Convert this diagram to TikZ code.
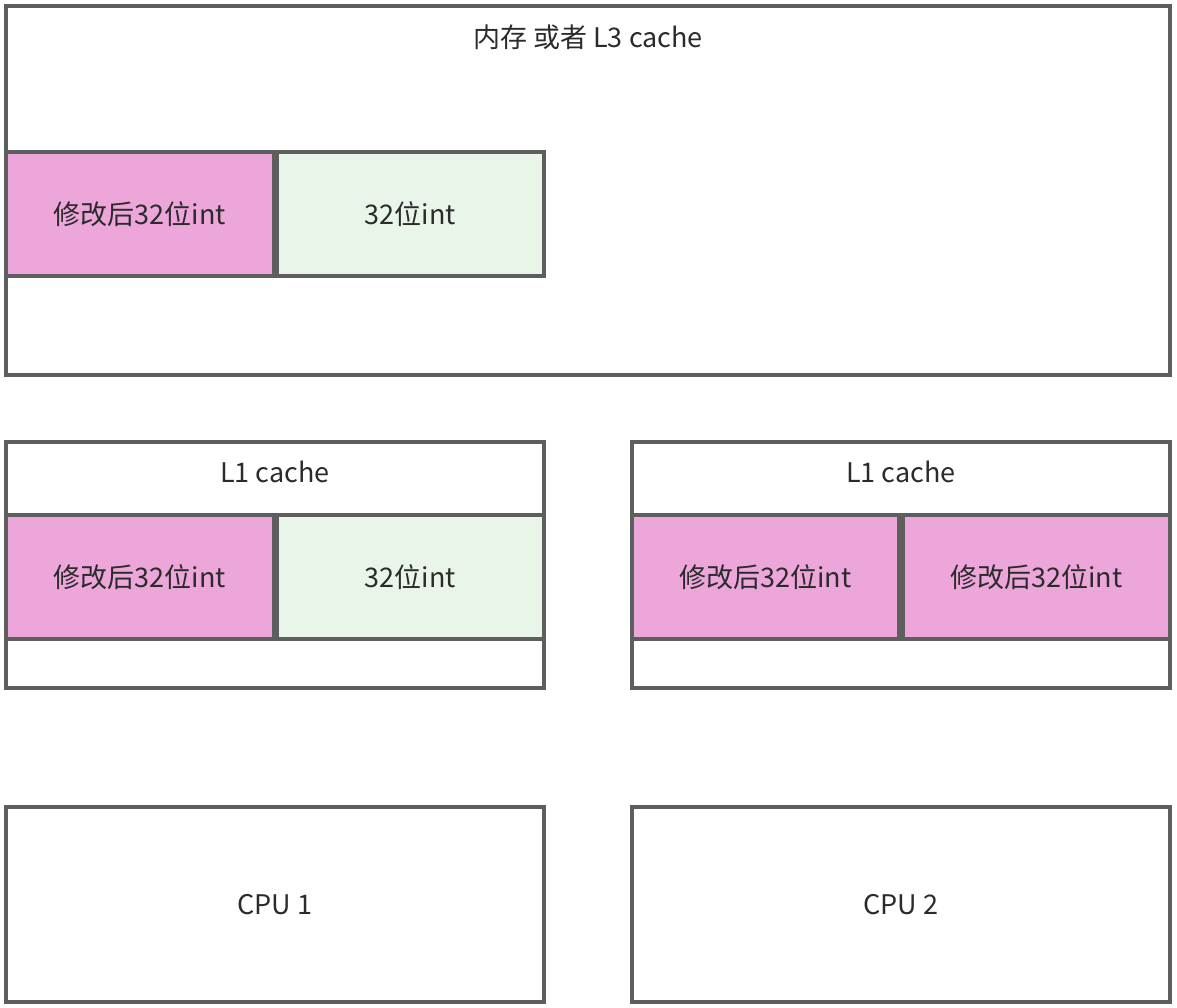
\documentclass[tikz,border=0pt]{standalone}
\usepackage{fontspec}
\setmainfont{Noto Sans CJK SC}
\begin{document}
\begin{tikzpicture}[x=1pt,y=-1pt,
  box/.style={draw=boxline,line width=3.4pt,inner sep=0pt,outer sep=0pt,anchor=north west,font=\fontsize{27}{32}\selectfont,text=txt},
  pinkcell/.style={box,fill=pinkc},
  greencell/.style={box,fill=greenc},
  lbl/.style={inner sep=0pt,font=\fontsize{27}{32}\selectfont,text=txt}]
\definecolor{boxline}{HTML}{5E5E5E}
\definecolor{pinkc}{HTML}{ECA6D9}
\definecolor{greenc}{HTML}{E8F5E8}
\definecolor{txt}{HTML}{2B2B2B}
\useasboundingbox[fill=white] (0,0) rectangle (1177,1008);
% memory / L3
\node[box,minimum width=1164pt,minimum height=369pt] (mem) at (6,6) {};
\node[lbl] (memt) at (588,37) {内存 或者 L3 cache};
\node[pinkcell,minimum width=268pt,minimum height=124pt] (mp) at (6,152) {修改后32位int};
\node[greencell,minimum width=267pt,minimum height=124pt] (mg) at (277,152) {32位int};
% L1 left
\node[box,minimum width=538pt,minimum height=246pt] (l1a) at (6,442) {};
\node[lbl] (l1at) at (275,472) {L1 cache};
\node[pinkcell,minimum width=268pt,minimum height=124pt] (ap) at (6,515) {修改后32位int};
\node[greencell,minimum width=267pt,minimum height=124pt] (ag) at (277,515) {32位int};
% L1 right
\node[box,minimum width=538pt,minimum height=246pt] (l1b) at (632,442) {};
\node[lbl] (l1bt) at (901,472) {L1 cache};
\node[pinkcell,minimum width=267pt,minimum height=124pt] (bp1) at (632,515) {修改后32位int};
\node[pinkcell,minimum width=267pt,minimum height=124pt] (bp2) at (903,515) {修改后32位int};
% CPUs
\node[box,minimum width=538pt,minimum height=195pt] (cpu1) at (6,807) {CPU 1};
\node[box,minimum width=538pt,minimum height=195pt] (cpu2) at (632,807) {CPU 2};
\end{tikzpicture}
\end{document}
